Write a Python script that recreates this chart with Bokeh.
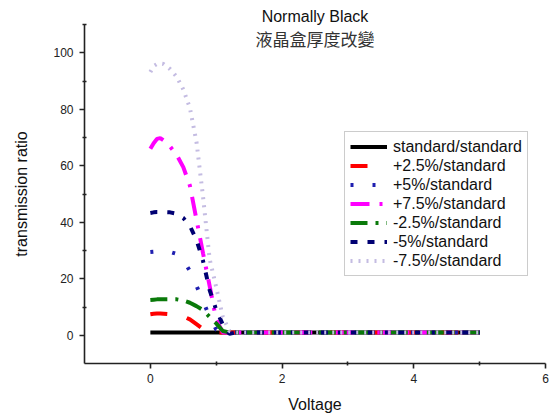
from bokeh.plotting import figure
from bokeh.models import (ColumnDataSource, Legend, LegendItem, Label, FixedTicker,
                          Range1d)
from bokeh.embed import file_html
from bokeh.resources import INLINE

# ---------------- data ----------------
voltage = [0, 0.05, 0.1, 0.15, 0.2, 0.3, 0.4, 0.5, 0.6, 0.7, 0.8, 0.9, 1.0,
           1.1, 1.2, 1.3, 1.5, 2.0, 2.5, 3.0, 3.5, 4.0, 4.5, 5.0]
tail = [1.0] * 8
standard = [1.0] * 16 + tail
plus_2_5 = [7.4, 7.6, 7.7, 7.7, 7.6, 7.4, 7.1, 6.7, 5.6, 3.9, 2.2, 1.0, 1.0,
            1.0, 1.0, 1.0, 1.0] + [1.0] * 7
plus_5 = [29.5, 29.6, 29.7, 29.7, 29.7, 29.5, 28.8, 26.5, 22.8, 17.5, 12.0, 6.5, 2.0,
          1.0, 1.0, 1.0, 1.0] + [1.0] * 7
plus_7_5 = [66.0, 68.0, 69.5, 69.8, 69.0, 66.8, 63.8, 59.5, 53.0, 41.0, 29.0, 17.5, 5.5,
            1.0, 1.0, 1.0, 1.0] + [1.0] * 7
minus_2_5 = [12.5, 12.6, 12.7, 12.7, 12.7, 12.7, 12.7, 12.3, 11.5, 10.3, 8.9, 6.5, 4.2,
             1.5, 1.0, 1.0, 1.0] + [1.0] * 7
minus_5 = [43.3, 43.5, 43.6, 43.6, 43.6, 43.5, 43.0, 41.5, 38.7, 33.8, 26.3, 16.0, 9.0,
           3.8, 0.5, 1.0, 1.0] + [1.0] * 7
minus_7_5 = [93.2, 95.3, 96.0, 96.2, 96.0, 94.2, 91.5, 87.0, 80.5, 68.5, 49.0, 27.0, 17.0,
             6.5, 1.5, 1.0, 1.0] + [1.0] * 7

series_names = ["standard/standard", "+2.5%/standard", "+5%/standard", "+7.5%/standard",
                "-2.5%/standard", "-5%/standard", "-7.5%/standard"]
series_values = [standard, plus_2_5, plus_5, plus_7_5, minus_2_5, minus_5, minus_7_5]

x_ticks = [0, 2, 4, 6]
x_minor = [1, 3, 5]
y_ticks = [0, 20, 40, 60, 80, 100]
y_minor = [10, 30, 50, 70, 90, 110]

title_line1 = "Normally Black"
title_line2 = "液晶盒厚度改變"

# ---------------- styles ----------------
styles = [
    dict(color="#000000", dash="solid", width=4),
    dict(color="#ff0000", dash="17 20", width=4),
    dict(color="#1f1fb0", dash="3 19", width=4),
    dict(color="#ff00ff", dash="19 10 3 10", width=4),
    dict(color="#0a7a0a", dash="17 8 3 8", width=4),
    dict(color="#000073", dash="7 10 7 10 3 10", width=4),
    dict(color="#c4bce2", dash="2 6", width=4),
]

p = figure(width=550, height=416, output_backend="svg", toolbar_location=None,
           x_range=Range1d(-1, 6), y_range=Range1d(-10, 110),
           min_border_left=84, min_border_right=5, min_border_top=24,
           min_border_bottom=53)
p.outline_line_color = None
p.xgrid.visible = False
p.ygrid.visible = False
p.background_fill_color = "white"
p.border_fill_color = "white"

p.title.text = title_line1
p.title.align = "center"
p.title.text_font = "Liberation Sans"
p.title.text_font_size = "16px"
p.title.text_font_style = "normal"
p.title.text_color = "#111111"
p.title.standoff = 0
p.title.offset = 0

src = {"v": voltage}
for i, vals in enumerate(series_values):
    src[f"s{i}"] = vals
source = ColumnDataSource(src)

items = []
for i, (name, st) in enumerate(zip(series_names, styles)):
    r = p.line(x="v", y=f"s{i}", source=source, line_color=st["color"],
               line_width=st["width"], line_dash=st["dash"])
    items.append(LegendItem(label=name, renderers=[r]))

legend = Legend(items=items, location=(260, 87), margin=0, padding=5, spacing=0,
                glyph_width=37, glyph_height=19, label_height=19, label_standoff=6,
                label_text_font="Liberation Sans", label_text_font_size="16px",
                label_text_color="#111111",
                border_line_color="#999999", border_line_width=1,
                background_fill_color="white", background_fill_alpha=1.0)
p.add_layout(legend, "center")

# axes
for ax in (p.xaxis[0], p.yaxis[0]):
    ax.axis_line_width = 1.6
    ax.axis_line_color = "#222222"
    ax.major_tick_line_width = 1.6
    ax.major_tick_line_color = "#222222"
    ax.minor_tick_line_width = 1.6
    ax.minor_tick_line_color = "#222222"
    ax.major_tick_in = 0
    ax.major_tick_out = 5
    ax.minor_tick_in = 2
    ax.minor_tick_out = 2
    ax.major_label_text_font = "Liberation Sans"
    ax.major_label_text_font_size = "12px"
    ax.major_label_text_color = "#222222"
    ax.axis_label_text_font = "Liberation Sans"
    ax.axis_label_text_font_size = "16px"
    ax.axis_label_text_font_style = "normal"
    ax.axis_label_text_color = "#111111"

p.xaxis[0].ticker = FixedTicker(ticks=x_ticks, minor_ticks=x_minor)
p.yaxis[0].ticker = FixedTicker(ticks=y_ticks, minor_ticks=y_minor)
p.xaxis[0].axis_label = "Voltage"
p.yaxis[0].axis_label = "transmission ratio"
p.xaxis[0].major_label_standoff = 5
p.yaxis[0].major_label_standoff = 6
p.xaxis[0].axis_label_standoff = 10
p.yaxis[0].axis_label_standoff = 20

# second title line (inside the frame top)
p.add_layout(Label(x=2.5, y=104.9, text=title_line2, text_align="center",
                   text_baseline="middle", text_font="Noto Sans CJK TC",
                   text_font_size="17px", text_color="#333333"))

open("out.html", "w").write(file_html(p, INLINE))
